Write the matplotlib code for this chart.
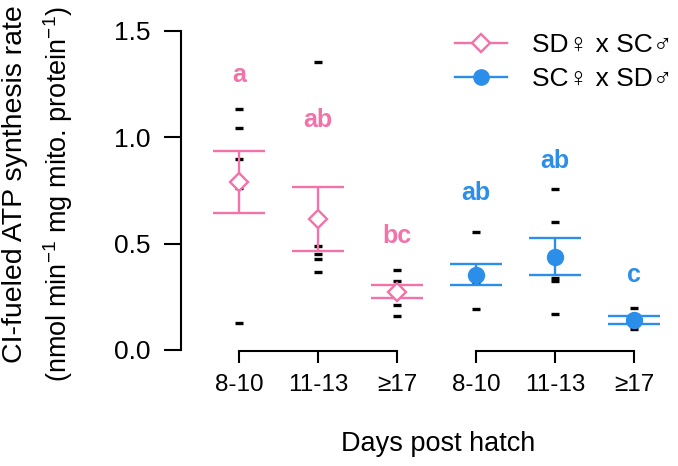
import matplotlib
matplotlib.use("Agg")
import matplotlib.pyplot as plt
from matplotlib.lines import Line2D

plt.rcParams['font.family'] = ['Liberation Sans', 'DejaVu Sans']
plt.rcParams['mathtext.fontset'] = 'custom'
plt.rcParams['mathtext.rm'] = 'Liberation Sans'
plt.rcParams['mathtext.it'] = 'Liberation Sans:italic'

PINK = "#F272AA"
BLUE = "#2B8FEA"

# Data
days = ["8-10", "11-13", "\u226517", "8-10", "11-13", "\u226517"]
pink_x = [1, 2, 3]
blue_x = [4, 5, 6]

pink_mean = [0.789, 0.614, 0.274]
pink_hi = [0.937, 0.768, 0.306]
pink_lo = [0.646, 0.465, 0.243]
blue_mean = [0.353, 0.439, 0.141]
blue_hi = [0.403, 0.525, 0.160]
blue_lo = [0.304, 0.351, 0.122]

# individual samples per group
raw = [
    [1.133, 1.042, 0.897, 0.760, 0.128],
    [1.355, 0.489, 0.451, 0.426, 0.368],
    [0.376, 0.326, 0.212, 0.161],
    [0.556, 0.318, 0.191],
    [0.755, 0.603, 0.340, 0.324, 0.169],
    [0.196, 0.100],
]

letters = ["a", "ab", "bc", "ab", "ab", "c"]
letter_y = [1.261, 1.050, 0.505, 0.705, 0.854, 0.321]

fig = plt.figure(figsize=(6.78, 4.66), dpi=100)
ax = fig.add_axes([0.267, 0.2468, 0.723, 0.7324])

# raw points as short dashes (behind the means)
for i, vals in enumerate(raw):
    ax.plot([i + 1] * len(vals), vals, ls="none", marker="_", ms=6, mew=2.4,
            color="black", zorder=1)

def lower_upper(mean, lo, hi):
    return [m - l for m, l in zip(mean, lo)], [h - m for m, h in zip(mean, hi)]

ax.errorbar(pink_x, pink_mean, yerr=lower_upper(pink_mean, pink_lo, pink_hi),
            ls="none", ecolor=PINK, elinewidth=1.7, capsize=18.5, capthick=1.7,
            marker="D", ms=9.5, mfc="white", mec=PINK, mew=1.7, zorder=3)
ax.errorbar(blue_x, blue_mean, yerr=lower_upper(blue_mean, blue_lo, blue_hi),
            ls="none", ecolor=BLUE, elinewidth=1.7, capsize=18.5, capthick=1.7,
            marker="o", ms=11.5, mfc=BLUE, mec=BLUE, zorder=3)

for i, (lab, ly) in enumerate(zip(letters, letter_y)):
    ax.text(i + 1, ly, lab, ha="center", va="baseline", fontsize=18,
            fontweight="bold", color=PINK if i < 3 else BLUE)

ax.set_ylim(-0.005, 1.6)
ax.set_xlim(0.266, 6.468)
ax.set_yticks([0.0, 0.5, 1.0, 1.5])
ax.set_yticklabels(["0.0", "0.5", "1.0", "1.5"])
ax.set_xticks(range(1, 7))
ax.set_xticklabels(days)

for s in ["top", "right", "bottom"]:
    ax.spines[s].set_visible(False)
ax.spines["left"].set_bounds(0, 1.5)
ax.spines["left"].set_linewidth(1.5)
ax.tick_params(axis="y", length=12, width=1.5, pad=10, labelsize=19)
ax.tick_params(axis="x", length=8.5, width=1.5, pad=8, labelsize=17.5)

# bracket axes under each group
trans = ax.get_xaxis_transform()
for grp in (pink_x, blue_x):
    ax.plot([grp[0], grp[-1]], [0, 0], color="black", lw=1.5, transform=trans,
            clip_on=False, solid_capstyle="projecting")

fig.text(438 / 678, 1 - 444 / 466, "Days post hatch", ha="center", va="center",
         fontsize=19.5)
fig.text(15 / 678, 1 - 184 / 466, "CI-fueled ATP synthesis rate", rotation=90,
         ha="center", va="center", fontsize=20.5)
fig.text(58 / 678, 1 - 194 / 466, r"(nmol min$^{-1}$ mg mito. protein$^{-1}$)",
         rotation=90, ha="center", va="center", fontsize=19.5)

handles = [
    Line2D([], [], color=PINK, lw=1.7, marker="D", ms=9, mfc="white", mec=PINK, mew=1.7),
    Line2D([], [], color=BLUE, lw=1.7, marker="o", ms=11, mfc=BLUE, mec=BLUE),
]
ax.legend(handles, ["SD\u2640 x SC\u2642", "SC\u2640 x SD\u2642"], loc="upper left",
          bbox_to_anchor=(455 / 678, 1 - 33 / 466), bbox_transform=fig.transFigure,
          frameon=False, borderpad=0, borderaxespad=0, handlelength=1.97,
          handletextpad=0.95, labelspacing=0.38, fontsize=19,
          prop={"family": ["Liberation Sans", "Noto Sans CJK JP"], "size": 19})

fig.savefig("out.png", dpi=100)
